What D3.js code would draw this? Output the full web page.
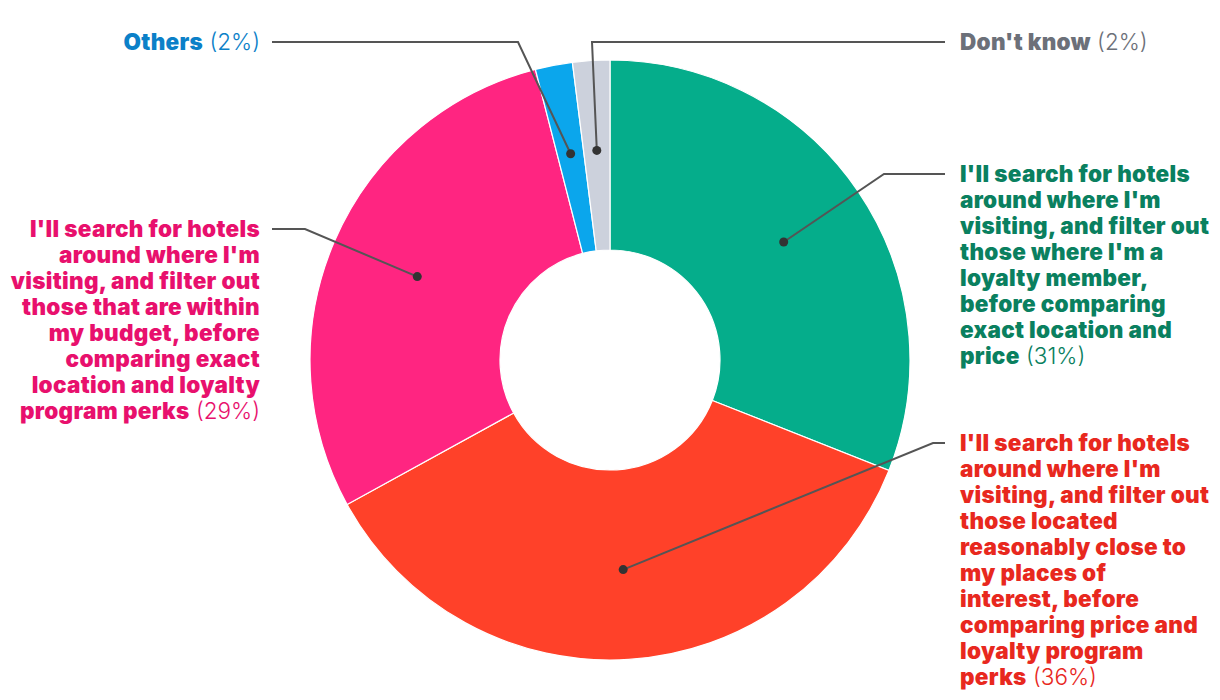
<!DOCTYPE html>
<html>
<head>
<meta charset="utf-8">
<script src="https://cdn.jsdelivr.net/npm/d3@7"></script>
<style>
  html, body { margin: 0; padding: 0; background: #fff; }
  svg { display: block; font-family: Inter, "Open Sans", sans-serif; }
</style>
</head>
<body>
<svg width="1220" height="700"></svg>
<script>
// slice order: clockwise from 12 o'clock
const categories = ["loyalty", "location", "budget", "others", "dontknow"];
const values = [31, 36, 29, 2, 2];
const labelLines = [
  ["I'll search for hotels", "around where I'm", "visiting, and filter out", "those where I'm a", "loyalty member,", "before comparing", "exact location and", "price"],
  ["I'll search for hotels", "around where I'm", "visiting, and filter out", "those located", "reasonably close to", "my places of", "interest, before", "comparing price and", "loyalty program", "perks"],
  ["I'll search for hotels", "around where I'm", "visiting, and filter out", "those that are within", "my budget, before", "comparing exact", "location and loyalty", "program perks"],
  ["Others"],
  ["Don't know"]
];

const sliceColor = ["#05ad8b", "#ff4129", "#ff2581", "#0ba6ec", "#ccd1dc"];
const textColor = ["#0a805f", "#e8281e", "#e8106d", "#0b80c8", "#6c7079"];

// label placement: text anchor point, elbow x of the leader line
const labelPos = [
  { x: 960, y: 174, anchor: "start", elbow: 884 },
  { x: 960, y: 443, anchor: "start", elbow: 933 },
  { x: 260, y: 229, anchor: "end", elbow: 305 },
  { x: 260, y: 42, anchor: "end", elbow: 518 },
  { x: 960, y: 42, anchor: "start", elbow: 592 }
];

const svg = d3.select("svg");
const cx = 610, cy = 360;
const outerR = 300, innerR = 110, dotR = 210;
const lineH = 26;

const pie = d3.pie().sort(null).value(d => d.value);
const data = categories.map((c, i) => ({ key: c, value: values[i], i }));
const arcs = pie(data);

const arc = d3.arc().innerRadius(innerR).outerRadius(outerR);
const dotArc = d3.arc().innerRadius(dotR).outerRadius(dotR);

const g = svg.append("g").attr("transform", `translate(${cx},${cy})`);

g.selectAll("path.slice")
  .data(arcs)
  .join("path")
  .attr("class", "slice")
  .attr("d", arc)
  .attr("fill", d => sliceColor[d.data.i])
  .attr("stroke", "#fff")
  .attr("stroke-width", 1.2);

// leader lines
const leaders = svg.append("g")
  .attr("fill", "none")
  .attr("stroke", "#555")
  .attr("stroke-width", 2);

arcs.forEach(a => {
  const i = a.data.i;
  const p = labelPos[i];
  const [dx, dy] = dotArc.centroid(a);
  const px = cx + dx, py = cy + dy;
  const endX = p.anchor === "start" ? p.x - 15 : p.x + 12;
  leaders.append("path")
    .attr("d", d3.line()([[px, py], [p.elbow, p.y], [endX, p.y]]));
  svg.append("circle")
    .attr("cx", px).attr("cy", py).attr("r", 4.5)
    .attr("fill", "#333");
});

// labels
arcs.forEach(a => {
  const i = a.data.i;
  const p = labelPos[i];
  const lines = labelLines[i];
  const t = svg.append("text")
    .attr("text-anchor", p.anchor)
    .attr("fill", textColor[i])
    .attr("font-size", 22.5)
    .attr("letter-spacing", 0.3);
  lines.forEach((ln, k) => {
    const ts = t.append("tspan")
      .attr("x", p.x)
      .attr("y", p.y + k * lineH)
      .attr("dy", "0.35em");
    ts.append("tspan").attr("font-weight", 900).text(ln);
    if (k === lines.length - 1) {
      ts.append("tspan").attr("font-weight", 300).attr("letter-spacing", 0).text(` (${values[i]}%)`);
    }
  });
});
</script>
</body>
</html>
